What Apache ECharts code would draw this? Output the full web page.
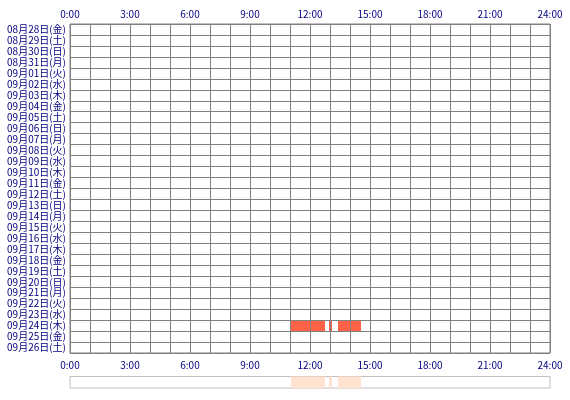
<!DOCTYPE html>
<html lang="ja">
<head>
  <meta charset="UTF-8">
  <title>Timeline</title>
  <script src="https://cdn.jsdelivr.net/npm/echarts@6/dist/echarts.min.js"></script>
  <style>
    html, body { margin: 0; padding: 0; background: #fff; }
    #chart { width: 570px; height: 400px; }
  </style>
</head>
<body>
<div id="chart"></div>
<script>
  // days shown on the y axis, top to bottom
  const days = [
    '08月28日(金)', '08月29日(土)', '08月30日(日)', '08月31日(月)',
    '09月01日(火)', '09月02日(水)', '09月03日(木)', '09月04日(金)',
    '09月05日(土)', '09月06日(日)', '09月07日(月)', '09月08日(火)',
    '09月09日(水)', '09月10日(木)', '09月11日(金)', '09月12日(土)',
    '09月13日(日)', '09月14日(月)', '09月15日(火)', '09月16日(水)',
    '09月17日(木)', '09月18日(金)', '09月19日(土)', '09月20日(日)',
    '09月21日(月)', '09月22日(火)', '09月23日(水)', '09月24日(木)',
    '09月25日(金)', '09月26日(土)'
  ];
  // active periods: [day, start hour, end hour]
  const segDays = ['09月24日(木)', '09月24日(木)', '09月24日(木)'];
  const segStart = [11.05, 12.95, 13.4];
  const segEnd = [12.75, 13.1, 14.55];

  const textColor = '#000080';
  const lineColor = '#808080';
  const font = '"Noto Sans CJK JP", sans-serif';

  const mainData = segDays.map((d, i) => [d, segStart[i], segEnd[i]]);
  const shadowData = segDays.map((d, i) => ['all', segStart[i], segEnd[i]]);

  function makeRender(color) {
    return function (params, api) {
      const row = api.value(0);
      const s = api.coord([api.value(1), row]);
      const e = api.coord([api.value(2), row]);
      const h = api.size([0, 1])[1];
      return {
        type: 'rect',
        shape: { x: s[0], y: s[1] - h / 2, width: e[0] - s[0], height: h },
        style: { fill: color }
      };
    };
  }

  const hourLabel = v => (v % 3 === 0 ? v + ':00' : '');

  function timeAxis(pos) {
    return {
      type: 'value', gridIndex: 0, position: pos, min: 0, max: 24, interval: 1, z: 10,
      axisLine: { show: false }, axisTick: { show: false },
      axisLabel: {
        formatter: hourLabel, color: textColor, fontFamily: font, fontSize: 10,
        margin: pos === 'top' ? 5 : 7, showMinLabel: true, showMaxLabel: true
      },
      splitLine: { show: pos === 'bottom', lineStyle: { color: lineColor, width: 1 } }
    };
  }

  const chart = echarts.init(document.getElementById('chart'));
  chart.setOption({
    animation: false,
    backgroundColor: '#fff',
    grid: [
      { left: 70, right: 20, top: 24, height: 329, show: true, borderColor: lineColor, borderWidth: 1 },
      { left: 70, right: 20, top: 376.5, height: 11.5, show: true, borderColor: '#c0c0c0', borderWidth: 1 }
    ],
    xAxis: [
      timeAxis('bottom'),
      timeAxis('top'),
      { type: 'value', gridIndex: 1, min: 0, max: 24, show: false }
    ],
    yAxis: [
      {
        type: 'category', gridIndex: 0, data: days, inverse: true, z: 10,
        axisLine: { show: false }, axisTick: { show: false },
        axisLabel: { interval: 0, color: textColor, fontFamily: font, fontSize: 10, margin: 4 },
        splitLine: { show: true, interval: 0, lineStyle: { color: lineColor, width: 1 } }
      },
      { type: 'category', gridIndex: 1, data: ['all'], show: false }
    ],
    series: [
      { type: 'custom', xAxisIndex: 0, yAxisIndex: 0, renderItem: makeRender('#ff6347'),
        encode: { x: [1, 2], y: 0 }, data: mainData },
      { type: 'custom', xAxisIndex: 2, yAxisIndex: 1, renderItem: makeRender('#ffe3d0'),
        encode: { x: [1, 2], y: 0 }, data: shadowData }
    ]
  });
</script>
</body>
</html>
